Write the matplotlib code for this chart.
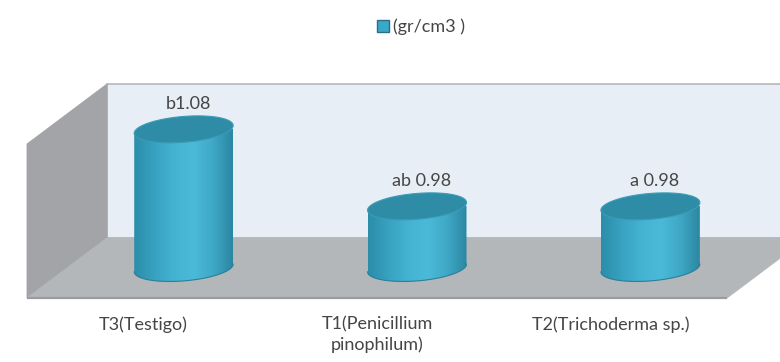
import numpy as np
import matplotlib
matplotlib.use("Agg")
import matplotlib.pyplot as plt
from matplotlib.patches import Polygon, Patch
from matplotlib.colors import LinearSegmentedColormap

# datos
categorias = ["T3(Testigo)", "T1(Penicillium\npinophilum)", "T2(Trichoderma sp.)"]
valores = [1.08, 0.98, 0.98]
letras = ["b", "ab ", "a "]
serie = "(gr/cm3 )"

VMIN, VMAX = 0.9, 1.1          # escala del eje de valores
DX, DY = 0.343, 0.078          # profundidad del piso (unidades de categoría / valor)
RX, RY = 0.212, 0.0168         # semiejes de la elipse de los cilindros
SHEAR = 0.005                  # inclinación de las elipses
TXT = "#454545"
FS = 13

plt.rcParams["font.family"] = ["Lato", "DejaVu Sans"]

fig = plt.figure(figsize=(7.8, 3.62), dpi=100)
ax = fig.add_axes([0, 0, 1, 1])
ax.set_xlim(-0.6157, 2.727)
ax.set_ylim(0.8169, 1.287)
ax.axis("off")

x0, x1 = -0.5, len(categorias) - 0.5

# paredes y piso
pared_izq = [(x0, VMIN), (x0 + DX, VMIN + DY), (x0 + DX, VMAX + DY), (x0, VMAX)]
pared_fondo = [(x0 + DX, VMIN + DY), (x1 + DX, VMIN + DY),
               (x1 + DX, VMAX + DY), (x0 + DX, VMAX + DY)]
piso = [(x0, VMIN), (x1, VMIN), (x1 + DX, VMIN + DY), (x0 + DX, VMIN + DY)]
ax.add_patch(Polygon(pared_fondo, closed=True, facecolor="#e7eef5",
                     edgecolor="#b4b7ba", lw=1.2, zorder=1))
ax.add_patch(Polygon(pared_izq, closed=True, facecolor="#a2a4a7",
                     edgecolor="#a2a4a7", lw=0.6, zorder=2))
ax.add_patch(Polygon(piso, closed=True, facecolor="#b4b7ba",
                     edgecolor="#b4b7ba", lw=0.6, zorder=2))
ax.plot([x0, x1], [VMIN, VMIN], color="#9a9c9f", lw=1.6, zorder=3,
        solid_capstyle="butt")

# degradado horizontal del cuerpo del cilindro
cmap = LinearSegmentedColormap.from_list(
    "cil", ["#2b8daa", "#37a1c0", "#44b2d1", "#4bbad9", "#3fa8c6", "#2b87a2"])
grad = np.linspace(0, 1, 256).reshape(1, -1)
t = np.linspace(0, 2 * np.pi, 200)


def elipse(cx, cy, tt=t):
    return np.column_stack([cx + RX * np.cos(tt),
                            cy + RY * np.sin(tt) + SHEAR * np.cos(tt)])


for i, v in enumerate(valores):
    cx = i + DX / 2
    yb = VMIN + DY / 2
    yt = v + DY / 2
    # cuerpo: lados + mitad inferior de la elipse de base
    base = elipse(cx, yb, np.linspace(np.pi, 2 * np.pi, 100))
    cuerpo = np.vstack([[cx - RX, yt - SHEAR], base, [cx + RX, yt + SHEAR]])
    poly = Polygon(cuerpo, closed=True, facecolor="none", edgecolor="none")
    ax.add_patch(poly)
    im = ax.imshow(grad, cmap=cmap, aspect="auto", zorder=4,
                   extent=(cx - RX, cx + RX, yb - RY - 0.01, yt))
    im.set_clip_path(poly)
    ax.plot(base[:, 0], base[:, 1], color="#2a7f98", lw=0.8, zorder=5)
    # tapa superior
    ax.add_patch(Polygon(elipse(cx, yt), closed=True, facecolor="#2f8ca7",
                         edgecolor="#3b9cb7", lw=0.8, zorder=6))
    ax.text(cx + 0.02, yt + RY + 0.006, f"{letras[i]}{v:.2f}", ha="center",
            va="bottom", fontsize=FS, color=TXT, zorder=7)

# etiquetas de categoría (plano frontal)
for i, c in enumerate(categorias):
    ax.text(i, VMIN - 0.024, c, ha="center", va="top", fontsize=FS,
            color=TXT, linespacing=1.3)

fig.legend(handles=[Patch(facecolor="#3aa9c8", edgecolor="#2a6f85")],
           labels=[serie], loc="center", bbox_to_anchor=(0.54, 0.925),
           frameon=False, handlelength=0.65, handleheight=0.65,
           handletextpad=0.25, prop={"size": FS}, labelcolor=TXT)

fig.savefig("out.png", dpi=100, facecolor="white")
